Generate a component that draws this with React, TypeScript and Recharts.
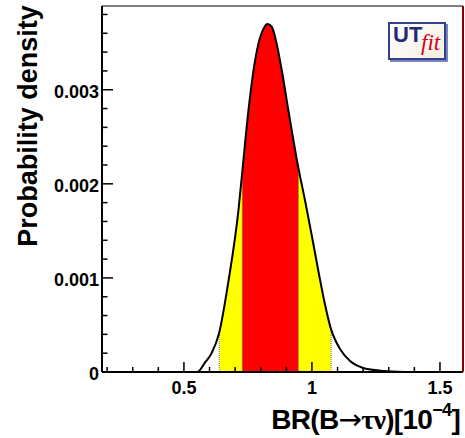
import React from "react"
import {
  ComposedChart,
  Area,
  Line,
  XAxis,
  YAxis,
  ReferenceLine,
} from "recharts"

// BR(B -> tau nu) in units of 1e-4
const brValues = [
  0.18, 0.5, 0.552, 0.582, 0.608, 0.638, 0.673, 0.713, 0.728, 0.752, 0.772,
  0.791, 0.811, 0.826, 0.843, 0.862, 0.882, 0.908, 0.947, 0.974, 1.0,
  1.026, 1.05, 1.075, 1.091, 1.111, 1.15, 1.2, 1.267, 1.332, 1.4, 1.59,
]
const density = [
  0, 0, 0, 0.0001, 0.0002, 0.00042, 0.00095, 0.00172, 0.00213, 0.00278,
  0.00321, 0.00349, 0.00365, 0.0037, 0.00367, 0.00349, 0.00321, 0.00278,
  0.00217, 0.00181, 0.00144, 0.00106, 0.00073, 0.00045, 0.00034,
  0.00024, 0.000113, 0.000043, 0.000014, 0.000003, 0, 0,
]

// 68% and 95% intervals
const range95 = [0.638, 1.075]
const range68 = [0.728, 0.947]

const xTicks = [0.2, 0.3, 0.4, 0.5, 0.6, 0.7, 0.8, 0.9, 1, 1.1, 1.2, 1.3, 1.4, 1.5]
const xMajor = [0.5, 1, 1.5]
const yTicks = [
  0, 0.0002, 0.0004, 0.0006, 0.0008, 0.001, 0.0012, 0.0014, 0.0016, 0.0018,
  0.002, 0.0022, 0.0024, 0.0026, 0.0028, 0.003, 0.0032, 0.0034, 0.0036, 0.0038,
]
const yMajor = [0, 0.001, 0.002, 0.003]

const rows = brValues.map((x, i) => {
  const p = density[i]
  return {
    x,
    p,
    yellow: x >= range95[0] && x <= range95[1] ? p : null,
    red: x >= range68[0] && x <= range68[1] ? p : null,
  }
})

const edges = [range95[0], range68[0], range68[1], range95[1]]

const labelFont = {
  fontFamily: "'Liberation Sans', Arial, sans-serif",
  fontWeight: 700,
  fontSize: 18,
  fill: "#000",
}

function XTick(props: any) {
  const { x, y, payload } = props
  const major = xMajor.includes(payload.value)
  return (
    <g>
      <line x1={x} x2={x} y1={y} y2={y - (major ? 10 : 5)} stroke="#000" strokeWidth={1.5} />
      {major && (
        <text x={x} y={y + 22} textAnchor="middle" style={labelFont}>
          {String(payload.value)}
        </text>
      )}
    </g>
  )
}

function YTick(props: any) {
  const { x, y, payload } = props
  const major = yMajor.includes(payload.value)
  return (
    <g>
      <line x1={x} x2={x + (major ? 11 : 5.5)} y1={y} y2={y} stroke="#000" strokeWidth={1.5} />
      {major && (
        <text x={x - 3} y={y + 8} textAnchor="end" style={labelFont}>
          {String(payload.value)}
        </text>
      )}
    </g>
  )
}

export default function App() {
  return (
    <div style={{ position: "absolute", left: 0, top: 0, width: 465, height: 438, background: "#fff" }}>
      <ComposedChart
        width={465}
        height={438}
        data={rows}
        margin={{ top: 6, right: 2, bottom: 0, left: 0 }}
      >
        <XAxis
          type="number"
          dataKey="x"
          domain={[0.18, 1.59]}
          allowDataOverflow
          ticks={xTicks}
          interval={0}
          tick={<XTick />}
          tickLine={false}
          tickSize={0}
          tickMargin={0}
          height={66}
          axisLine={{ stroke: "#000", strokeWidth: 2 }}
        />
        <YAxis
          type="number"
          domain={[0, 0.00389]}
          allowDataOverflow
          ticks={yTicks}
          interval={0}
          tick={<YTick />}
          tickLine={false}
          tickSize={0}
          tickMargin={0}
          width={102}
          axisLine={{ stroke: "#000", strokeWidth: 2 }}
        />
        <Area
          type="monotone"
          dataKey="yellow"
          fill="#ffff00"
          fillOpacity={1}
          stroke="none"
          isAnimationActive={false}
        />
        <Area
          type="monotone"
          dataKey="red"
          fill="#ff0000"
          fillOpacity={1}
          stroke="none"
          isAnimationActive={false}
        />
        {edges.map((e) => (
          <ReferenceLine
            key={e}
            segment={[
              { x: e, y: 0 },
              { x: e, y: density[brValues.indexOf(e)] },
            ]}
            stroke="#777"
            strokeDasharray="1 1"
          />
        ))}
        <ReferenceLine y={0.00389} stroke="#000" strokeWidth={1} />
        <ReferenceLine x={1.59} stroke="#8b0000" strokeWidth={2} />
        <Line
          type="monotone"
          dataKey="p"
          stroke="#000"
          strokeWidth={2}
          dot={false}
          isAnimationActive={false}
        />
      </ComposedChart>

      <svg
        width={465}
        height={438}
        style={{ position: "absolute", left: 0, top: 0, pointerEvents: "none" }}
      >
        <text
          transform="translate(37,126) rotate(-90)"
          textAnchor="middle"
          style={{ ...labelFont, fontSize: 27 }}
        >
          Probability density
        </text>
        <text
          x={460}
          y={429}
          textAnchor="end"
          style={{ ...labelFont, fontSize: 28, letterSpacing: -0.7 }}
        >
          BR(B
          <tspan style={{ fontFamily: "'DejaVu Sans', sans-serif", fontWeight: 400 }}>→</tspan>
          <tspan style={{ fontFamily: "'Liberation Serif', serif" }}>τν</tspan>
          )[10
          <tspan dy={-13} style={{ fontSize: 18 }}>−4</tspan>
          <tspan dy={13}>]</tspan>
        </text>
      </svg>

      <div
        style={{
          position: "absolute",
          left: 388,
          top: 22,
          width: 54,
          height: 34,
          border: "2px solid #33408f",
          boxShadow: "2px 2px 0 #7c84b8",
          background: "linear-gradient(135deg, #ffffff, #f3efe0)",
        }}
      >
        <span
          style={{
            position: "absolute",
            left: 3,
            top: -2,
            fontFamily: "'Liberation Sans', Arial, sans-serif",
            fontWeight: 700,
            fontSize: 22,
            color: "#1f2a78",
          }}
        >
          UT
        </span>
        <span
          style={{
            position: "absolute",
            left: 31,
            top: 6,
            fontFamily: "'Liberation Serif', serif",
            fontStyle: "italic",
            fontSize: 23,
            color: "#d4001a",
          }}
        >
          fit
        </span>
      </div>
    </div>
  )
}
